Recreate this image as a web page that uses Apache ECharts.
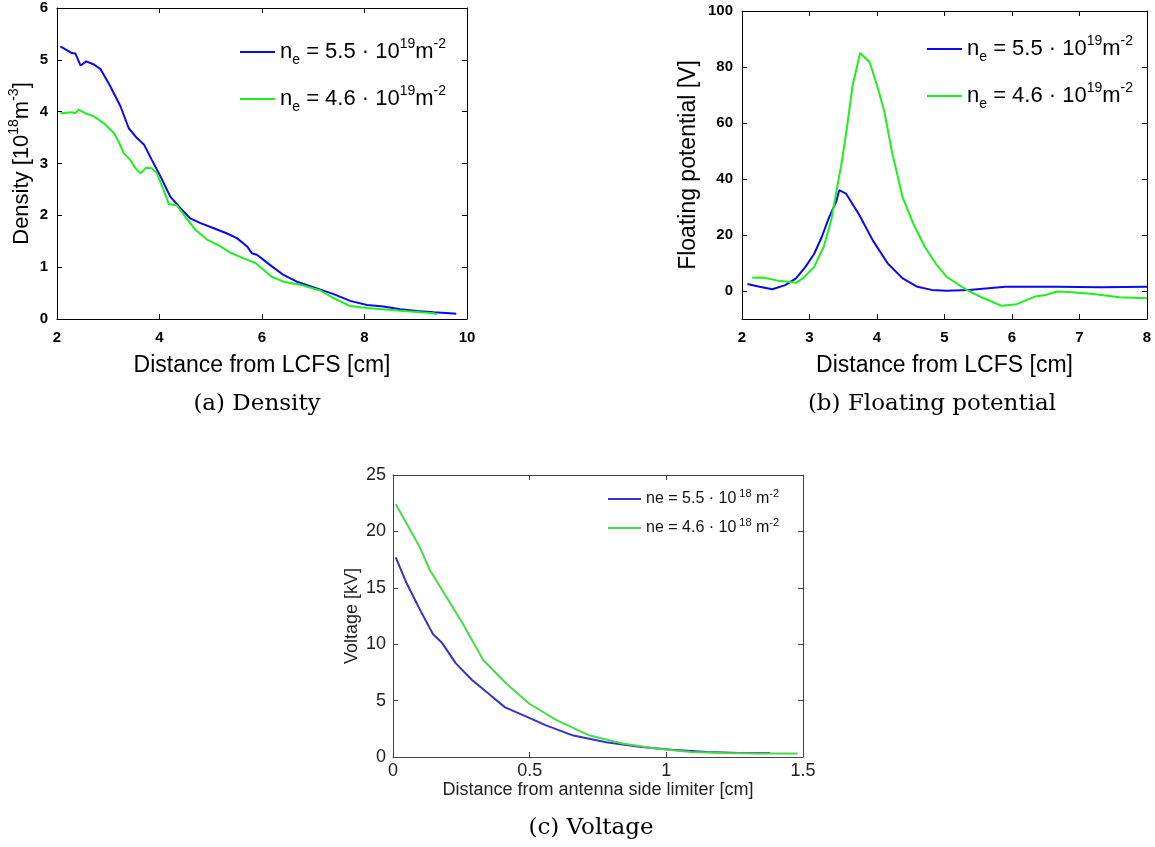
<!DOCTYPE html>
<html><head><meta charset="utf-8">
<script src="https://cdn.jsdelivr.net/npm/echarts@6/dist/echarts.min.js"></script>
<style>html,body{margin:0;padding:0;background:#fff}#c{width:1155px;height:847px}</style>
</head><body><div id="c"></div><script>
// ---- Panel (a) Density ----
const densBlueX = [2.065,2.29,2.36,2.46,2.57,2.72,2.85,3.04,3.24,3.40,3.56,3.70,3.85,4.02,4.21,4.41,4.60,4.80,5.06,5.32,5.51,5.71,5.80,5.90,6.03,6.20,6.42,6.68,7.07,7.40,7.72,8.05,8.37,8.70,9.02,9.35,9.67,9.79];
const densBlueY = [5.26,5.13,5.12,4.89,4.97,4.91,4.82,4.49,4.10,3.68,3.49,3.36,3.07,2.75,2.36,2.14,1.94,1.85,1.75,1.65,1.56,1.40,1.27,1.24,1.14,1.01,0.85,0.72,0.59,0.48,0.35,0.27,0.24,0.19,0.155,0.13,0.11,0.10];
const densGreenX = [2.065,2.29,2.36,2.42,2.55,2.72,2.91,3.11,3.20,3.30,3.43,3.53,3.63,3.74,3.85,3.95,4.08,4.18,4.34,4.50,4.70,4.93,5.19,5.38,5.64,5.87,6.03,6.18,6.42,6.75,7.14,7.40,7.72,8.05,8.70,9.35,9.41];
const densGreenY = [3.97,3.99,3.97,4.04,3.97,3.91,3.78,3.59,3.43,3.20,3.07,2.91,2.81,2.92,2.91,2.81,2.49,2.22,2.19,1.98,1.72,1.53,1.40,1.28,1.17,1.08,0.95,0.82,0.72,0.66,0.55,0.40,0.25,0.21,0.16,0.11,0.09];
// ---- Panel (b) Floating potential ----
const potBlueX = [2.08,2.26,2.45,2.64,2.80,2.94,3.07,3.18,3.29,3.40,3.44,3.54,3.73,3.94,4.16,4.38,4.60,4.81,5.03,5.36,5.90,6.67,7.32,8.0];
const potBlueY = [2.5,1.5,0.6,2.1,4.5,8.6,13.3,19.2,26.3,32.2,36.0,34.8,27.5,18.0,9.8,4.5,1.5,0.4,0.1,0.35,1.5,1.5,1.3,1.5];
const potGreenX = [2.15,2.31,2.53,2.69,2.80,2.91,3.07,3.21,3.32,3.40,3.48,3.56,3.64,3.75,3.89,4.00,4.11,4.22,4.38,4.54,4.71,4.87,5.03,5.20,5.36,5.58,5.85,6.07,6.34,6.50,6.67,6.83,7.21,7.59,8.0];
const potGreenY = [4.7,4.8,3.7,3.3,2.9,4.7,8.6,15.7,25.1,35.7,46.3,59.3,73.5,85.0,81.7,73.5,64.0,49.9,33.4,23.9,15.7,9.8,5.1,2.4,0,-2.6,-5.3,-4.7,-2.0,-1.4,-0.2,-0.4,-1.1,-2.2,-2.6];
// ---- Panel (c) Voltage ----
const voltBlueX = [0.01,0.05,0.10,0.146,0.18,0.23,0.29,0.35,0.41,0.49,0.56,0.66,0.78,0.90,1.02,1.15,1.27,1.38];
const voltBlueY = [17.7,15.4,13.0,10.9,10.1,8.3,6.8,5.6,4.4,3.55,2.8,1.9,1.3,0.9,0.65,0.45,0.35,0.35];
const voltGreenX = [0.01,0.05,0.10,0.134,0.195,0.256,0.33,0.415,0.50,0.60,0.72,0.84,0.96,1.09,1.21,1.33,1.48];
const voltGreenY = [22.4,20.7,18.5,16.6,14.2,11.8,8.6,6.5,4.7,3.25,1.9,1.2,0.75,0.45,0.35,0.3,0.3];
// ---- Ticks ----
const densXTicks = [2,4,6,8,10];
const densYTicks = [0,1,2,3,4,5,6];
const potXTicks = [2,3,4,5,6,7,8];
const potYTicks = [0,20,40,60,80,100];
const voltXTicks = [0,0.5,1,1.5];
const voltYTicks = [0,5,10,15,20,25];
// ---- Legend labels ----
const legendNames = {
  a55: '{n|n}{sub|e}{t| = 5.5 · 10}{sup|19}{t|m}{sup|-2}',
  a46: '{n|n}{sub|e}{t| = 4.6 · 10}{sup|19}{t|m}{sup|-2}',
  b55: '{n|n}{sub|e}{t| = 5.5 · 10}{sup|19}{t|m}{sup|-2}',
  b46: '{n|n}{sub|e}{t| = 4.6 · 10}{sup|19}{t|m}{sup|-2}',
  c55: '{t|ne = 5.5 · 10}{sup| 18}{t| m}{sup|-2}',
  c46: '{t|ne = 4.6 · 10}{sup| 18}{t| m}{sup|-2}'
};
const captions = ['(a) Density', '(b) Floating potential', '(c) Voltage'];

const zip = (xs, ys) => xs.map((x, i) => [x, ys[i]]);

const bigRich = {
  n: {fontSize: 22, lineHeight: 30, fontFamily: 'Liberation Sans', color: '#000'},
  t: {fontSize: 22, lineHeight: 30, fontFamily: 'Liberation Sans', color: '#000'},
  sub: {fontSize: 14, lineHeight: 12, verticalAlign: 'bottom', fontFamily: 'Liberation Sans', color: '#000'},
  sup: {fontSize: 14, lineHeight: 12, verticalAlign: 'top', fontFamily: 'Liberation Sans', color: '#000'}
};
const smallRich = {
  t: {fontSize: 16, lineHeight: 22, fontFamily: 'Liberation Sans', color: '#111'},
  sup: {fontSize: 11, lineHeight: 10, verticalAlign: 'top', fontFamily: 'Liberation Sans', color: '#111'}
};

function axisPair(grid, min, max, ticks, opts) {
  const lineColor = opts.lineColor;
  const main = {
    type: 'value', gridIndex: grid, min: min, max: max,
    position: opts.pos,
    axisLine: {show: true, onZero: false, lineStyle: {color: lineColor, width: 1}},
    axisTick: {show: true, inside: true, length: 5, customValues: ticks, lineStyle: {color: lineColor}},
    axisLabel: {show: true, customValues: ticks, margin: opts.margin, color: opts.labelColor,
      fontSize: opts.labelSize, fontWeight: opts.labelWeight, fontFamily: 'Liberation Sans'},
    splitLine: {show: false},
    name: opts.name, nameLocation: 'middle', nameGap: opts.nameGap,
    nameRotate: opts.nameRotate,
    nameTextStyle: {fontSize: opts.nameSize, color: opts.nameColor, fontFamily: 'Liberation Sans', rich: opts.nameRich}
  };
  const mirror = {
    type: 'value', gridIndex: grid, min: min, max: max,
    position: opts.mirrorPos,
    axisLine: {show: true, onZero: false, lineStyle: {color: lineColor, width: 1}},
    axisTick: {show: true, inside: true, length: 5, customValues: ticks, lineStyle: {color: lineColor}},
    axisLabel: {show: false},
    splitLine: {show: false}
  };
  return [main, mirror];
}

const xAxes = [
  ...axisPair(0, 2, 10, densXTicks, {pos:'bottom', mirrorPos:'top', lineColor:'#000', margin:11, labelColor:'#000', labelSize:15, labelWeight:'bold', name:'Distance from LCFS [cm]', nameGap:35, nameSize:23, nameColor:'#000'}),
  ...axisPair(1, 2, 8, potXTicks, {pos:'bottom', mirrorPos:'top', lineColor:'#000', margin:11, labelColor:'#000', labelSize:15, labelWeight:'bold', name:'Distance from LCFS [cm]', nameGap:35, nameSize:23, nameColor:'#000'}),
  ...axisPair(2, 0, 1.5, voltXTicks, {pos:'bottom', mirrorPos:'top', lineColor:'#444', margin:5, labelColor:'#222', labelSize:18, labelWeight:'normal', name:'Distance from antenna side limiter [cm]', nameGap:23, nameSize:18, nameColor:'#222'})
];
const yAxes = [
  ...axisPair(0, 0, 6, densYTicks, {pos:'left', mirrorPos:'right', lineColor:'#000', margin:9, labelColor:'#000', labelSize:15, labelWeight:'bold', name:'{t|Density [10}{sup|18}{t|m}{sup|-3}{t|]}', nameRich: bigRich, nameRotate:90, nameGap:20, nameSize:22, nameColor:'#000'}),
  ...axisPair(1, -10, 100, potYTicks, {pos:'left', mirrorPos:'right', lineColor:'#000', margin:9, labelColor:'#000', labelSize:15, labelWeight:'bold', name:'Floating potential [V]', nameRotate:90, nameGap:42, nameSize:23, nameColor:'#000'}),
  ...axisPair(2, 0, 25, voltYTicks, {pos:'left', mirrorPos:'right', lineColor:'#444', margin:7, labelColor:'#222', labelSize:18, labelWeight:'normal', name:'Voltage [kV]', nameRotate:90, nameGap:32, nameSize:18, nameColor:'#222'})
];

function lineSeries(name, xi, yi, data, color) {
  return {name: name, type: 'line', xAxisIndex: xi, yAxisIndex: yi, data: data,
    showSymbol: false, symbol: 'none', smooth: false, silent: true, animation: false,
    lineStyle: {color: color, width: 2}, itemStyle: {color: color}};
}

function legend(names, left, top, gap, itemWidth, rich) {
  return {data: names, orient: 'vertical', left: left, top: top, itemGap: gap, padding: 0,
    icon: 'rect', itemWidth: itemWidth, itemHeight: 2, selectedMode: false,
    formatter: n => legendNames[n], textStyle: {rich: rich}};
}

function caption(text, x, y) {
  return {type: 'text', x: x, y: y, silent: true,
    style: {text: text, font: '23px "DejaVu Serif"', fill: '#000',
      textAlign: 'center', textVerticalAlign: 'middle', align: 'center', verticalAlign: 'middle'}};
}

const option = {
  animation: false,
  backgroundColor: '#fff',
  grid: [
    {left: 57, top: 8, width: 410, height: 311},
    {left: 742, top: 11, width: 405, height: 308},
    {left: 393, top: 475, width: 410, height: 282}
  ],
  xAxis: xAxes,
  yAxis: yAxes,
  legend: [
    legend(['a55','a46'], 240, 37, 17, 35, bigRich),
    legend(['b55','b46'], 927, 34, 17, 35, bigRich),
    legend(['c55','c46'], 608, 488, 10, 33, smallRich)
  ],
  series: [
    lineSeries('a55', 0, 0, zip(densBlueX, densBlueY), '#0a0af0'),
    lineSeries('a46', 0, 0, zip(densGreenX, densGreenY), '#1ef01e'),
    lineSeries('b55', 2, 2, zip(potBlueX, potBlueY), '#0a0af0'),
    lineSeries('b46', 2, 2, zip(potGreenX, potGreenY), '#1ef01e'),
    lineSeries('c55', 4, 4, zip(voltBlueX, voltBlueY), '#3434c8'),
    lineSeries('c46', 4, 4, zip(voltGreenX, voltGreenY), '#46dc46')
  ],
  graphic: [
    caption(captions[0], 257, 404),
    caption(captions[1], 932, 404),
    caption(captions[2], 591, 828)
  ]
};
const chart = echarts.init(document.getElementById('c'), null, {renderer: 'canvas'});
chart.setOption(option);
</script></body></html>
